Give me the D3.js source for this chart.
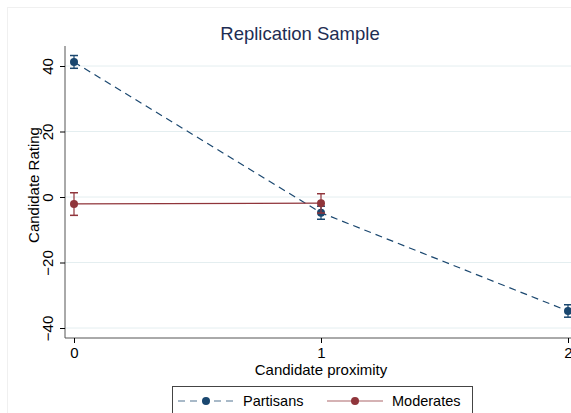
<!DOCTYPE html>
<html>
<head>
<meta charset="utf-8">
<script src="https://cdn.jsdelivr.net/npm/d3@7"></script>
<style>
  body { margin: 0; background: #fff; }
  svg { font-family: "Liberation Sans", Arial, sans-serif; }
</style>
</head>
<body>
<svg id="chart"></svg>
<script>
const proximity = [0, 1, 2];
const partisans = [41.2, -4.8, -34.8];
const partisansLo = [39.3, -6.8, -36.7];
const partisansHi = [43.2, -2.8, -32.9];
const moderates = [-2.1, -1.9];
const moderatesLo = [-5.6, -4.9];
const moderatesHi = [1.3, 1.0];
const yTicks = [-40, -20, 0, 20, 40];
const seriesNames = ["Partisans", "Moderates"];

const width = 571, height = 413;
const blue = "#1a476f", red = "#90353b";

const svg = d3.select("#chart").attr("width", width).attr("height", height);

svg.append("rect").attr("x", 7.5).attr("y", 7.5).attr("width", 600).attr("height", 420)
  .attr("fill", "none").attr("stroke", "#f0f0f0");

const x = d3.scaleLinear().domain([0, 2]).range([74, 568]);
const y = d3.scaleLinear().domain([-40, 40]).range([328, 66]);

// gridlines
svg.append("g").selectAll("line").data(yTicks).join("line")
  .attr("x1", 65).attr("x2", 620)
  .attr("y1", d => y(d)).attr("y2", d => y(d))
  .attr("stroke", "#e4eef0").attr("stroke-width", 1);

// y axis
const yAxis = svg.append("g").attr("transform", "translate(65,0)")
  .call(d3.axisLeft(y).tickValues(yTicks).tickSize(5).tickPadding(4));
yAxis.select(".domain").attr("d", "M0,46V338").attr("stroke", "#555");
yAxis.selectAll(".tick line").attr("stroke", "#000");
yAxis.selectAll(".tick text")
  .attr("transform", "rotate(-90)")
  .attr("x", 0).attr("y", -17).attr("dy", "0.35em")
  .style("text-anchor", "middle")
  .attr("font-size", 15).attr("fill", "#000");

// x axis
const xAxis = svg.append("g").attr("transform", "translate(0,338)")
  .call(d3.axisBottom(x).tickValues(proximity).tickFormat(d3.format("d")).tickSize(5).tickPadding(4));
xAxis.select(".domain").attr("d", "M65,0H620").attr("stroke", "#555");
xAxis.selectAll(".tick line").attr("stroke", "#000");
xAxis.selectAll(".tick text").attr("font-size", 15).attr("fill", "#000");

// axis titles
svg.append("text").attr("x", 321).attr("y", 375).attr("text-anchor", "middle")
  .attr("font-size", 15).text("Candidate proximity");
svg.append("text").attr("transform", "translate(39,185) rotate(-90)").attr("text-anchor", "middle")
  .attr("font-size", 15).text("Candidate Rating");

// title
svg.append("text").attr("x", 300).attr("y", 40).attr("text-anchor", "middle")
  .attr("font-size", 18.5).attr("fill", "#1e2d53").text("Replication Sample");

function drawSeries(xs, vals, lo, hi, color, dash) {
  const g = svg.append("g");
  const pts = xs.map((d, i) => [x(d), y(vals[i])]);
  g.append("path").attr("d", d3.line()(pts)).attr("fill", "none")
    .attr("stroke", color).attr("stroke-width", 1.2).attr("stroke-dasharray", dash);
  const bars = g.selectAll(".bar").data(xs).join("g");
  bars.append("line").attr("x1", d => x(d)).attr("x2", d => x(d))
    .attr("y1", (d, i) => y(lo[i])).attr("y2", (d, i) => y(hi[i]))
    .attr("stroke", color).attr("stroke-width", 1.2);
  [lo, hi].forEach(arr => {
    bars.append("line").attr("x1", d => x(d) - 4).attr("x2", d => x(d) + 4)
      .attr("y1", (d, i) => y(arr[i])).attr("y2", (d, i) => y(arr[i]))
      .attr("stroke", color).attr("stroke-width", 1.5);
  });
  bars.append("circle").attr("cx", d => x(d)).attr("cy", (d, i) => y(vals[i]))
    .attr("r", 4).attr("fill", color);
}

drawSeries(proximity, partisans, partisansLo, partisansHi, blue, "7,5");
drawSeries(proximity.slice(0, 2), moderates, moderatesLo, moderatesHi, red, null);

// legend
const leg = svg.append("g");
leg.append("rect").attr("x", 172.5).attr("y", 386.5).attr("width", 300).attr("height", 40)
  .attr("fill", "#fff").attr("stroke", "#444");
const legItems = [
  { name: seriesNames[0], color: blue, dash: "7,5", x0: 178 },
  { name: seriesNames[1], color: red, dash: null, x0: 327 }
];
legItems.forEach(it => {
  leg.append("line").attr("x1", it.x0).attr("x2", it.x0 + 56).attr("y1", 401).attr("y2", 401)
    .attr("stroke", it.color).attr("stroke-width", 1.2).attr("stroke-dasharray", it.dash).attr("opacity", 0.75);
  leg.append("circle").attr("cx", it.x0 + 28).attr("cy", 401).attr("r", 4).attr("fill", it.color);
  leg.append("text").attr("x", it.x0 + 65).attr("y", 406).attr("font-size", 14.5).text(it.name);
});
</script>
</body>
</html>
